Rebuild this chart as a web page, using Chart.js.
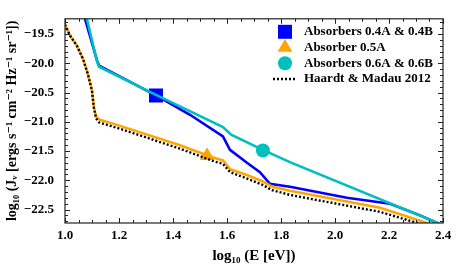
<!DOCTYPE html>
<html>
<head>
<meta charset="utf-8">
<script src="https://cdn.jsdelivr.net/npm/chart.js@4/dist/chart.umd.min.js"></script>
<style>
  body { margin: 0; background: #fff; }
</style>
</head>
<body>
<canvas id="chart" width="457" height="264"></canvas>
<script>
// ---- values ----
const blueX = [1.071, 1.074, 1.119, 1.126, 1.337, 1.463, 1.585, 1.611, 1.674, 1.722, 1.759, 1.833, 2.044, 2.204, 2.315, 2.378, 2.4];
const blueY = [-19.1, -19.24, -19.96, -20.04, -20.55, -20.88, -21.25, -21.48, -21.70, -21.86, -22.06, -22.11, -22.30, -22.40, -22.60, -22.73, -22.77];

const cyanX = [1.078, 1.081, 1.119, 1.126, 1.337, 1.585, 1.615, 1.733, 1.833, 2.381, 2.4];
const cyanY = [-19.1, -19.24, -19.975, -20.06, -20.54, -21.09, -21.22, -21.48, -21.69, -22.73, -22.77];

const orangeX = [1.0, 1.019, 1.044, 1.067, 1.085, 1.1, 1.107, 1.115, 1.126, 1.204, 1.426, 1.548, 1.585, 1.611, 1.674, 1.733, 1.767, 1.833, 2.167, 2.341, 2.4];
const orangeY = [-19.34, -19.53, -19.70, -19.93, -20.19, -20.47, -20.75, -20.91, -20.96, -21.07, -21.40, -21.61, -21.66, -21.81, -21.91, -22.02, -22.11, -22.18, -22.47, -22.73, -22.82];

const hmX = [1.0, 1.019, 1.044, 1.067, 1.085, 1.1, 1.107, 1.115, 1.126, 1.204, 1.426, 1.548, 1.585, 1.611, 1.674, 1.733, 1.767, 1.833, 2.167, 2.341, 2.4];
const hmY = [-19.34, -19.53, -19.70, -19.93, -20.19, -20.47, -20.76, -20.94, -21.01, -21.12, -21.46, -21.67, -21.72, -21.86, -21.97, -22.08, -22.17, -22.25, -22.54, -22.78, -22.87];

const squareX = [1.337], squareY = [-20.55];
const triX = [1.526], triY = [-21.58];
const circX = [1.733], circY = [-21.49];

const legendLabels = ['Absorbers 0.4A & 0.4B', 'Absorber 0.5A', 'Absorbers 0.6A & 0.6B', 'Haardt & Madau 2012'];

const xTicks = [1.0, 1.2, 1.4, 1.6, 1.8, 2.0, 2.2, 2.4];
const yTicks = [-19.5, -20.0, -20.5, -21.0, -21.5, -22.0, -22.5];
const xRange = [1.0, 2.4];
const yRange = [-22.73, -19.24];

const pts = (xs, ys) => xs.map((x, i) => ({ x: x, y: ys[i] }));
const fmt = v => (v < 0 ? '\u2212' : '') + Math.abs(v).toFixed(1);

const SERIF = '"Liberation Serif", "DejaVu Serif", serif';
const BLUE = '#0000ff', CYAN = '#00bfbf', ORANGE = '#ffa500';

// frame + inward ticks on all four sides, like matplotlib
const framePlugin = {
  id: 'frame',
  afterDatasetsDraw(chart) {
    const { ctx, chartArea: a, scales: { x, y } } = chart;
    ctx.save();
    ctx.strokeStyle = '#222';
    ctx.lineWidth = 1;
    ctx.beginPath();
    for (let v = 1.0; v <= 2.4001; v += 0.05) {
      const px = Math.round(x.getPixelForValue(v)) + 0.5;
      const major = Math.abs(v * 5 - Math.round(v * 5)) < 1e-6;
      const len = major ? 5 : 3;
      ctx.moveTo(px, a.bottom); ctx.lineTo(px, a.bottom - len);
      ctx.moveTo(px, a.top); ctx.lineTo(px, a.top + len);
    }
    for (let v = -22.7; v <= -19.29; v += 0.1) {
      const py = Math.round(y.getPixelForValue(v)) + 0.5;
      const major = Math.abs(v * 2 - Math.round(v * 2)) < 1e-6;
      const len = major ? 5 : 3;
      ctx.moveTo(a.left, py); ctx.lineTo(a.left + len, py);
      ctx.moveTo(a.right, py); ctx.lineTo(a.right - len, py);
    }
    ctx.stroke();
    ctx.lineWidth = 1.2;
    ctx.strokeRect(a.left, a.top, a.right - a.left, a.bottom - a.top);
    ctx.restore();
  }
};

// legend box in the upper right, markers + dotted line
const legendPlugin = {
  id: 'boxLegend',
  afterDraw(chart) {
    const { ctx, chartArea: a } = chart;
    const mx = a.right - 158, tx = a.right - 139;
    const marks = [chart.data.datasets[4], chart.data.datasets[5], chart.data.datasets[6]];
    ctx.save();
    legendLabels.forEach((label, i) => {
      const yy = a.top + 13 + i * 15.7;
      if (i < 3) {
        const d = marks[i];
        ctx.fillStyle = d.backgroundColor;
        ctx.strokeStyle = d.backgroundColor;
        Chart.helpers.drawPoint(ctx, { pointStyle: d.pointStyle, radius: d.pointRadius, rotation: 0, borderWidth: 0 }, mx, yy);
      } else {
        ctx.strokeStyle = '#000';
        ctx.lineWidth = 2.5;
        ctx.setLineDash([2, 2]);
        ctx.beginPath();
        ctx.moveTo(mx - 12, yy); ctx.lineTo(mx + 12, yy);
        ctx.stroke();
        ctx.setLineDash([]);
      }
      ctx.fillStyle = '#000';
      ctx.font = 'bold 13px ' + SERIF;
      ctx.textBaseline = 'middle';
      ctx.textAlign = 'left';
      ctx.fillText(label, tx, yy);
    });
    ctx.restore();
  }
};

const lineDs = (xs, ys, color, order, extra) => Object.assign({
  data: pts(xs, ys),
  showLine: true,
  borderColor: color,
  borderWidth: 2.6,
  pointRadius: 0,
  tension: 0,
  clip: 0,
  order: order
}, extra || {});

const markDs = (xs, ys, color, style, r, order) => ({
  data: pts(xs, ys),
  showLine: false,
  backgroundColor: color,
  borderColor: color,
  borderWidth: 0,
  pointStyle: style,
  pointRadius: r,
  clip: 0,
  order: order
});

new Chart(document.getElementById('chart'), {
  type: 'scatter',
  data: {
    datasets: [
      lineDs(blueX, blueY, BLUE, 6),
      lineDs(cyanX, cyanY, CYAN, 4),
      lineDs(orangeX, orangeY, ORANGE, 3),
      lineDs(hmX, hmY, '#000', 2, { borderWidth: 2.4, borderDash: [2, 2] }),
      markDs(squareX, squareY, BLUE, 'rect', 9.9, 7),
      markDs(triX, triY, ORANGE, 'triangle', 8.5, 5),
      markDs(circX, circY, CYAN, 'circle', 7, 1)
    ]
  },
  options: {
    responsive: false,
    animation: false,
    events: [],
    layout: { padding: { top: 10, right: 14, left: 0, bottom: 0 } },
    plugins: { legend: { display: false }, tooltip: { enabled: false } },
    scales: {
      x: {
        type: 'linear',
        min: xRange[0], max: xRange[1],
        afterBuildTicks: s => { s.ticks = xTicks.map(v => ({ value: v })); },
        afterFit: s => { s.height = 41; },
        grid: { display: false, drawTicks: false },
        border: { display: false },
        ticks: { color: '#000', padding: 5, maxRotation: 0, font: { family: SERIF, size: 13, weight: 'bold' }, callback: v => fmt(v) },
        title: { display: true, text: 'log\u2081\u2080 (E [eV])', color: '#000', padding: { top: 0, bottom: 0 }, font: { family: SERIF, size: 15, weight: 'bold', lineHeight: 1 } }
      },
      y: {
        type: 'linear',
        min: yRange[0], max: yRange[1],
        afterBuildTicks: s => { s.ticks = yTicks.map(v => ({ value: v })); },
        afterFit: s => { s.width = 65; },
        grid: { display: false, drawTicks: false },
        border: { display: false },
        ticks: { color: '#000', padding: 11, font: { family: SERIF, size: 13, weight: 'bold' }, callback: v => fmt(v) },
        title: { display: true, text: 'log\u2081\u2080 (J\u1D65 [ergs s\u207B\u00B9 cm\u207B\u00B2 Hz\u207B\u00B9 sr\u207B\u00B9])', color: '#000', padding: { top: 5, bottom: 0 }, font: { family: SERIF, size: 14, weight: 'bold', lineHeight: 1 } }
      }
    }
  },
  plugins: [framePlugin, legendPlugin]
});
</script>
</body>
</html>
